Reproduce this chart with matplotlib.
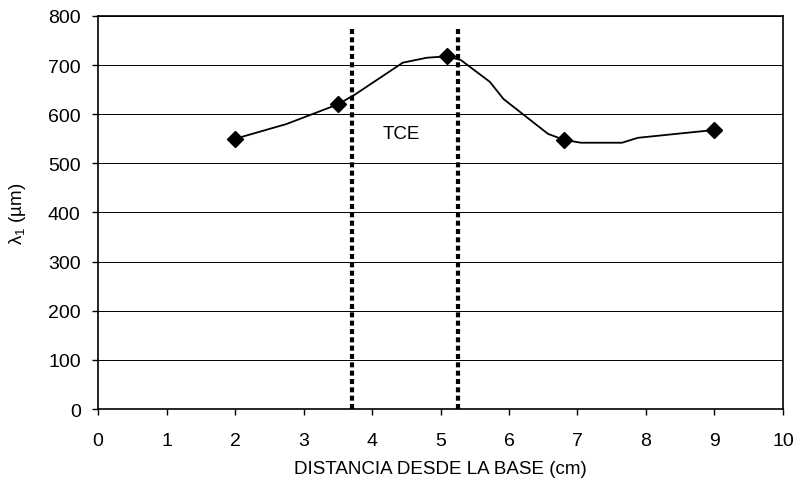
import matplotlib
matplotlib.use("Agg")
import matplotlib.pyplot as plt

plt.rcParams['font.family'] = ['Liberation Sans', 'DejaVu Sans']
plt.rcParams['mathtext.fontset'] = 'custom'
plt.rcParams['mathtext.rm'] = 'Liberation Sans'
plt.rcParams['mathtext.it'] = 'Liberation Sans:italic'

# measured points (markers)
pts_x = [2, 3.5, 5.1, 6.8, 9]
pts_y = [550, 620, 718, 548, 568]

# smoothed curve through the measurements
curve_x = [2, 2.75, 3.5, 3.75, 4.45, 4.8, 5.1, 5.3, 5.72, 5.92, 6.57, 6.8, 7.05, 7.65, 7.88, 9]
curve_y = [550, 580, 620, 640, 705, 715, 718, 710, 666, 631, 560, 548, 542, 542, 552, 568]

# TCE zone limits
tce_x = [3.71, 5.26]
tce_top = 775

fig = plt.figure(figsize=(7.97, 4.85), dpi=100)
ax = fig.add_axes([0.123, 0.1546, 0.8594, 0.8104])

ax.plot(curve_x, curve_y, color='black', linewidth=1.3, zorder=3)
ax.plot(pts_x, pts_y, linestyle='none', marker='D', markersize=8.5,
        color='black', zorder=4)
for xv in tce_x:
    ax.plot([xv, xv], [0, tce_top], color='black', linewidth=3,
            linestyle=(0, (1.2, 0.8)), zorder=2)
ax.text(4.43, 560, 'TCE', fontsize=13.5, ha='center', va='center')

ax.set_xlim(0, 10)
ax.set_ylim(0, 800)
ax.set_xticks(range(0, 11))
ax.set_yticks(range(0, 801, 100))
ax.yaxis.grid(True, color='black', linewidth=0.7)
ax.set_axisbelow(True)
for s in ax.spines.values():
    s.set_linewidth(1.2)
ax.tick_params(direction='out', length=4.5, labelsize=14, width=1)
ax.tick_params(axis='x', pad=12)
ax.tick_params(axis='y', pad=8)

ax.set_xlabel('DISTANCIA DESDE LA BASE (cm)', fontsize=13.5, labelpad=8)
ax.set_ylabel(r'λ$_{1}$ (µm)', fontsize=13.5, labelpad=14)

fig.savefig('out.png', dpi=100)
